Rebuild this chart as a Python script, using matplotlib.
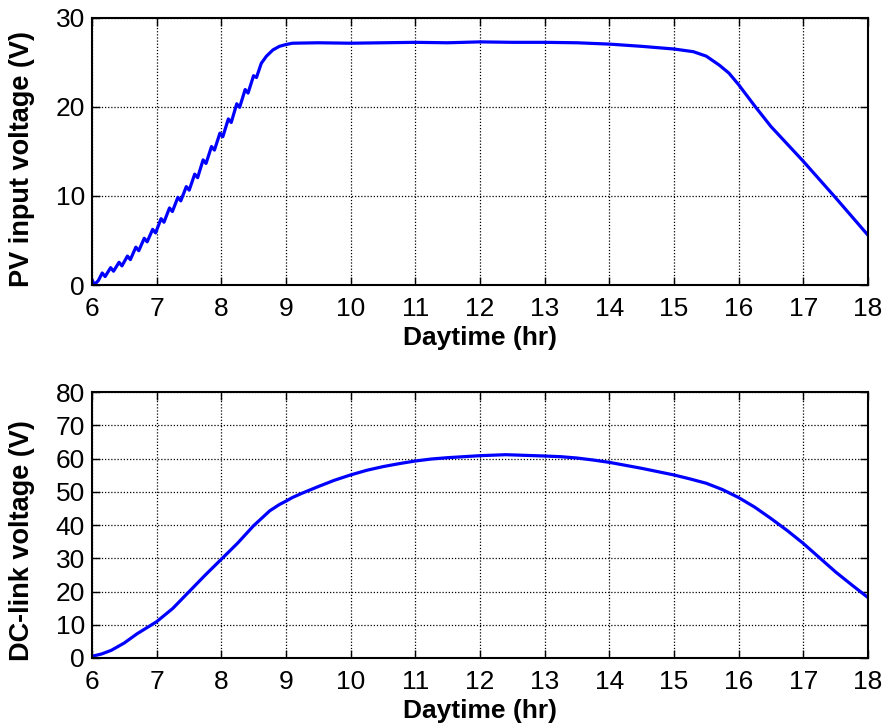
import numpy as np
import matplotlib.pyplot as plt

# PV input voltage (hr, V)
pv_hours = [6.00, 6.04, 6.10, 6.16, 6.205, 6.29, 6.335, 6.42, 6.465, 6.55,
            6.595, 6.68, 6.725, 6.81, 6.855, 6.94, 6.985, 7.07, 7.115, 7.20,
            7.245, 7.33, 7.375, 7.46, 7.505, 7.59, 7.635, 7.72, 7.765, 7.85,
            7.895, 7.98, 8.025, 8.11, 8.155, 8.24, 8.285, 8.37, 8.415, 8.50,
            8.545, 8.62, 8.70, 8.80, 8.90, 9.00, 9.10, 9.50, 10.0, 10.5,
            11.0, 11.5, 12.0, 12.5, 13.0, 13.5, 14.0, 14.5, 15.0, 15.3,
            15.5, 15.7, 15.85, 16.0, 16.25, 16.5, 17.0, 17.5, 18.0]
pv_volts = [0.6, 0.05, 0.5, 1.35, 0.95, 1.95, 1.55, 2.55, 2.15, 3.25,
            2.85, 4.25, 3.85, 5.25, 4.85, 6.25, 5.85, 7.45, 7.05, 8.65,
            8.25, 9.85, 9.45, 11.05, 10.65, 12.45, 12.05, 14.05, 13.65, 15.55,
            15.15, 17.05, 16.65, 18.65, 18.25, 20.35, 19.95, 21.95, 21.55, 23.5,
            23.3, 24.9, 25.7, 26.4, 26.8, 27.0, 27.15, 27.2, 27.15, 27.2,
            27.25, 27.2, 27.3, 27.25, 27.25, 27.2, 27.05, 26.8, 26.5, 26.2,
            25.7, 24.7, 23.8, 22.5, 20.1, 17.8, 13.9, 9.8, 5.6]

# DC-link voltage (hr, V)
dc_hours = [6.0, 6.15, 6.3, 6.5, 6.7, 7.0, 7.25, 7.5, 7.75, 8.0,
            8.25, 8.5, 8.75, 8.9, 9.0, 9.1, 9.25, 9.5, 9.75, 10.0,
            10.25, 10.5, 10.75, 11.0, 11.25, 11.5, 11.75, 12.0, 12.4, 12.7,
            13.0, 13.25, 13.5, 13.75, 14.0, 14.25, 14.5, 14.75, 15.0, 15.25,
            15.5, 15.75, 16.0, 16.25, 16.5, 16.75, 17.0, 17.25, 17.5, 17.75,
            18.0]
dc_volts = [0.5, 1.2, 2.3, 4.5, 7.3, 10.9, 14.9, 19.9, 24.9, 29.7,
            34.5, 39.8, 44.3, 46.2, 47.2, 48.3, 49.6, 51.6, 53.5, 55.1,
            56.5, 57.6, 58.5, 59.3, 59.9, 60.3, 60.6, 60.9, 61.2, 61.0,
            60.8, 60.6, 60.2, 59.6, 58.9, 58.0, 57.1, 56.1, 55.1, 53.9,
            52.6, 50.7, 48.3, 45.4, 42.0, 38.4, 34.5, 30.2, 25.9, 22.0,
            18.2]

x_ticks = list(range(6, 19))
pv_ticks = [0, 10, 20, 30]
dc_ticks = list(range(0, 81, 10))

plt.rcParams['font.family'] = ['Liberation Sans', 'DejaVu Sans']

fig = plt.figure(figsize=(8.92, 7.28), dpi=100)
ax1 = fig.add_axes([0.103, 0.6085, 0.870, 0.367])
ax2 = fig.add_axes([0.103, 0.0962, 0.870, 0.365])

panels = [
    (ax1, pv_hours, pv_volts, pv_ticks, 'PV input voltage (V)', 0.472),
    (ax2, dc_hours, dc_volts, dc_ticks, 'DC-link voltage (V)', 0.44),
]

for ax, xs, ys, yt, ylab, ly in panels:
    ax.plot(xs, ys, color='#0000ff', lw=2.3)
    ax.set_xlim(6, 18)
    ax.set_ylim(yt[0], yt[-1])
    ax.set_xticks(x_ticks)
    ax.set_yticks(yt)
    ax.grid(True, color='black', linestyle=(0, (1, 1.5)), linewidth=0.9)
    ax.tick_params(direction='in', length=6, width=1, top=True, right=True,
                   labelsize=19, pad=5)
    ax.tick_params(axis='x', pad=8.5)
    for sp in ax.spines.values():
        sp.set_linewidth(1.5)
    ax.set_xlabel('Daytime (hr)', fontsize=19, fontweight='bold', labelpad=4)
    ax.set_ylabel(ylab, fontsize=19.5, fontweight='bold')
    ax.yaxis.set_label_coords(-0.0735, ly)

fig.savefig('out.png', dpi=100)
